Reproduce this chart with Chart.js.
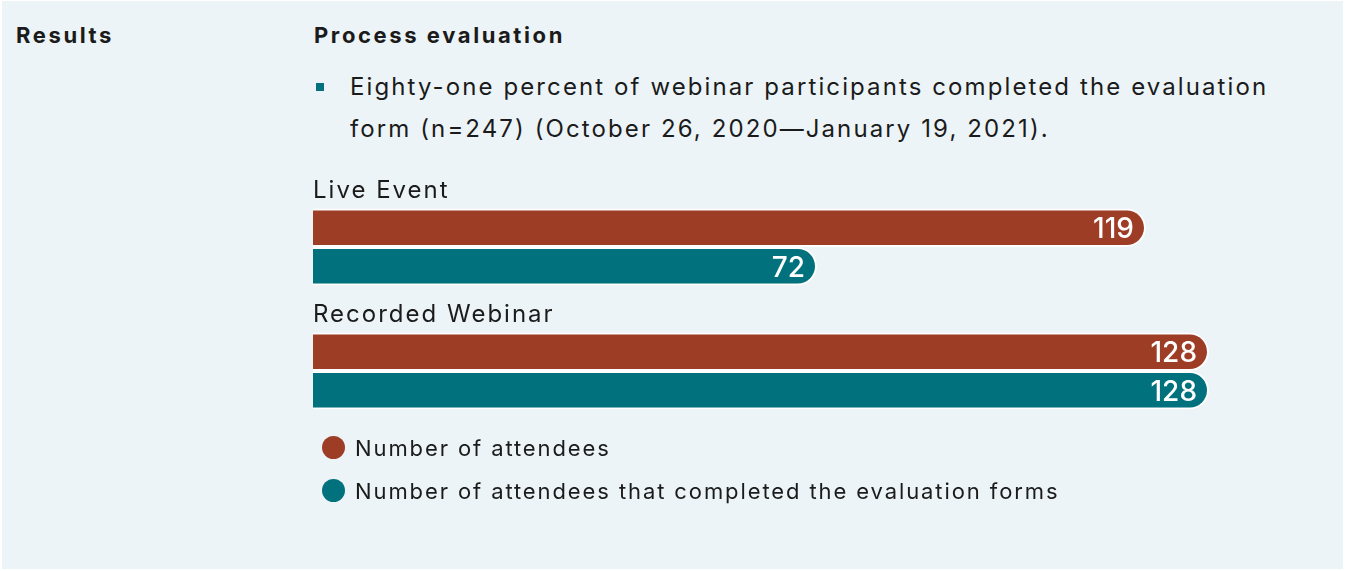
<!DOCTYPE html>
<html>
<head>
<meta charset="utf-8">
<script src="https://cdn.jsdelivr.net/npm/chart.js@4.4.0/dist/chart.umd.min.js"></script>
<style>
  body { margin: 0; background: #fff; font-family: Inter, 'Open Sans', sans-serif; color: #1b1b1b; }
  #panel { position: absolute; left: 2px; top: 1px; width: 1341px; height: 568px; background: #ecf4f7; }
  .abs { position: absolute; white-space: nowrap; }
  .h { font-weight: 700; font-size: 22px; line-height: 30px; letter-spacing: 2.6px; }
  #bullet { position: absolute; left: 316px; top: 83px; width: 8px; height: 8px; background: #00717d; }
  #para { left: 350px; top: 66px; font-size: 24px; line-height: 42px; letter-spacing: 2.1px; }
  #chartBox { position: absolute; left: 300px; top: 160px; width: 1045px; height: 280px; }
  #legend { position: absolute; left: 322px; top: 426px; font-size: 22px; letter-spacing: 1.9px; }
  .item { display: flex; align-items: center; height: 43px; }
  .dot { width: 23px; height: 23px; border-radius: 50%; margin-right: 10px; }
</style>
</head>
<body>
<div id="panel"></div>
<div class="abs h" style="left:16px; top:20px;">Results</div>
<div class="abs h" style="left:314px; top:20px;">Process evaluation</div>
<div id="bullet"></div>
<div id="para" class="abs">Eighty-one percent of webinar participants completed the evaluation<br>form (n=247) (October 26, 2020—January 19, 2021).</div>
<div id="chartBox"><canvas id="myChart"></canvas></div>
<div id="legend"></div>
<script>
  const categories = ['Live Event', 'Recorded Webinar'];
  const attendees = [119, 128];
  const completed = [72, 128];
  const seriesNames = ['Number of attendees', 'Number of attendees that completed the evaluation forms'];
  const colors = ['#9e3d26', '#00717d'];

  // category names above each group, values inside bar ends
  const labelsPlugin = {
    id: 'barLabels',
    afterDatasetsDraw(chart) {
      const ctx = chart.ctx;
      const yScale = chart.scales.y;
      ctx.save();
      ctx.fillStyle = '#1b1b1b';
      ctx.font = '24px Inter, sans-serif';
      ctx.letterSpacing = '2px';
      ctx.textAlign = 'left';
      ctx.textBaseline = 'middle';
      categories.forEach((cat, i) => {
        ctx.fillText(cat, chart.chartArea.left, yScale.getPixelForValue(i) - 56);
      });
      ctx.fillStyle = '#ffffff';
      ctx.font = '500 28px Inter, sans-serif';
      ctx.letterSpacing = '0px';
      ctx.textAlign = 'right';
      chart.data.datasets.forEach((ds, di) => {
        chart.getDatasetMeta(di).data.forEach((bar, i) => {
          ctx.fillText(ds.data[i], bar.x - 12, bar.y + 2);
        });
      });
      ctx.restore();
    }
  };

  const chart = new Chart(document.getElementById('myChart'), {
    type: 'bar',
    data: {
      labels: categories,
      datasets: [
        { label: seriesNames[0], data: attendees, backgroundColor: colors[0] },
        { label: seriesNames[1], data: completed, backgroundColor: colors[1] }
      ]
    },
    options: {
      indexAxis: 'y',
      responsive: true,
      maintainAspectRatio: false,
      animation: false,
      layout: { padding: { left: 13, right: 17, top: 25, bottom: 7 } },
      datasets: {
        bar: {
          categoryPercentage: 0.62,
          barPercentage: 1,
          borderColor: '#ffffff',
          borderWidth: 2,
          borderSkipped: 'start',
          borderRadius: { topRight: 20, bottomRight: 20, topLeft: 0, bottomLeft: 0 }
        }
      },
      scales: {
        x: { display: false, min: 0, max: 145 },
        y: { display: false }
      },
      plugins: {
        legend: { display: false },
        tooltip: { enabled: false }
      }
    },
    plugins: [labelsPlugin]
  });

  // legend from dataset labels
  const legendEl = document.getElementById('legend');
  chart.data.datasets.forEach(ds => {
    const item = document.createElement('div');
    item.className = 'item';
    item.innerHTML = '<span class="dot" style="background:' + ds.backgroundColor + '"></span><span>' + ds.label + '</span>';
    legendEl.appendChild(item);
  });
</script>
</body>
</html>
